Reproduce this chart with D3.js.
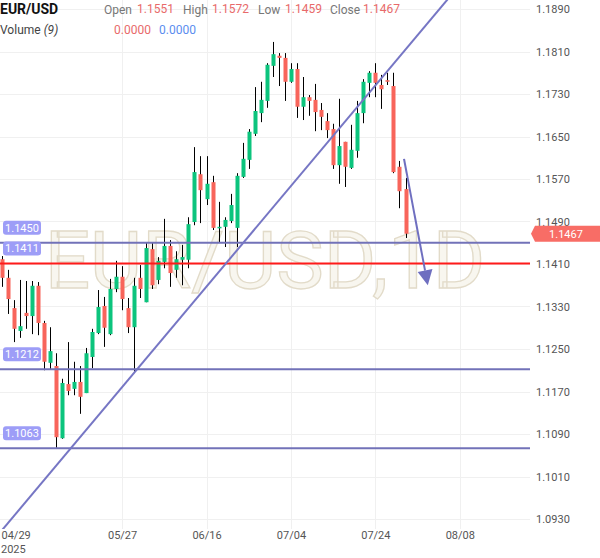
<!DOCTYPE html>
<html><head><meta charset="utf-8">
<script src="https://cdn.jsdelivr.net/npm/d3@7/dist/d3.min.js"></script>
<style>
html,body{margin:0;padding:0;background:#fff;}
svg{display:block;font-family:Roboto,"Noto Sans",sans-serif;}
</style></head>
<body><svg id="c" width="600" height="558"></svg>
<script>
// ---- data ----
const dates = ['04/29','04/30','05/01','05/02','05/05','05/06','05/07','05/08','05/09','05/12','05/13','05/14','05/15','05/16','05/19','05/20','05/21','05/22','05/23','05/26','05/27','05/28','05/29','05/30','06/02','06/03','06/04','06/05','06/06','06/09','06/10','06/11','06/12','06/13','06/16','06/17','06/18','06/19','06/20','06/23','06/24','06/25','06/26','06/27','06/30','07/01','07/02','07/03','07/04','07/07','07/08','07/09','07/10','07/11','07/14','07/15','07/16','07/17','07/18','07/21','07/22','07/23','07/24','07/25','07/28','07/29','07/30','07/31'];
const open  = [1.1419,1.1384,1.1327,1.1284,1.1318,1.1312,1.1369,1.1299,1.1224,1.1218,1.1082,1.1184,1.1175,1.1188,1.1167,1.1235,1.1280,1.1331,1.1278,1.1363,1.1386,1.1327,1.1291,1.1384,1.1338,1.1438,1.1380,1.1414,1.1444,1.1399,1.1418,1.1418,1.1489,1.1579,1.1532,1.1564,1.1478,1.1480,1.1491,1.1478,1.1574,1.1606,1.1655,1.1694,1.1717,1.1783,1.1802,1.1798,1.1753,1.1777,1.1706,1.1724,1.1719,1.1700,1.1679,1.1664,1.1596,1.1640,1.1591,1.1623,1.1694,1.1751,1.1770,1.1747,1.1756,1.1745,1.1593,1.1551];
const high  = [1.1425,1.1399,1.1342,1.1380,1.1378,1.1378,1.1376,1.1303,1.1291,1.1242,1.1194,1.1263,1.1226,1.1218,1.1252,1.1288,1.1361,1.1348,1.1382,1.1416,1.1406,1.1346,1.1384,1.1408,1.1450,1.1451,1.1423,1.1495,1.1455,1.1434,1.1446,1.1498,1.1630,1.1613,1.1613,1.1576,1.1527,1.1498,1.1542,1.1581,1.1638,1.1664,1.1743,1.1753,1.1788,1.1828,1.1807,1.1807,1.1788,1.1788,1.1762,1.1728,1.1749,1.1713,1.1694,1.1674,1.1721,1.1640,1.1672,1.1717,1.1758,1.1773,1.1788,1.1766,1.1770,1.1770,1.1604,1.1572];
const low   = [1.1367,1.1316,1.1263,1.1271,1.1288,1.1278,1.1276,1.1210,1.1212,1.1064,1.1081,1.1163,1.1163,1.1128,1.1167,1.1214,1.1278,1.1254,1.1276,1.1357,1.1323,1.1280,1.1207,1.1346,1.1338,1.1363,1.1372,1.1402,1.1367,1.1384,1.1370,1.1402,1.1483,1.1487,1.1521,1.1474,1.1450,1.1442,1.1487,1.1442,1.1572,1.1589,1.1651,1.1677,1.1704,1.1762,1.1745,1.1717,1.1751,1.1685,1.1681,1.1689,1.1660,1.1662,1.1647,1.1589,1.1561,1.1555,1.1589,1.1610,1.1675,1.1724,1.1724,1.1702,1.1747,1.1581,1.1515,1.1459];
const close = [1.1384,1.1344,1.1288,1.1293,1.1312,1.1369,1.1299,1.1226,1.1246,1.1084,1.1186,1.1171,1.1188,1.1160,1.1242,1.1282,1.1329,1.1290,1.1363,1.1386,1.1344,1.1291,1.1369,1.1363,1.1440,1.1370,1.1416,1.1444,1.1393,1.1419,1.1423,1.1485,1.1583,1.1549,1.1561,1.1478,1.1480,1.1493,1.1521,1.1576,1.1608,1.1659,1.1698,1.1719,1.1785,1.1805,1.1798,1.1753,1.1777,1.1706,1.1724,1.1717,1.1696,1.1687,1.1662,1.1596,1.1632,1.1593,1.1625,1.1694,1.1753,1.1770,1.1751,1.1739,1.1753,1.1583,1.1547,1.1467];

const yTicks = [1.0930,1.1010,1.1090,1.1170,1.1250,1.1330,1.1410,1.1490,1.1570,1.1650,1.1730,1.1810,1.1890];
const xTickIdx = [0,20,34,48,62,76];
const xTickLabels = ['04/29','05/27','06/16','07/04','07/24','08/08'];
const levels = [1.1450,1.1411,1.1212,1.1063];
const levelColors = ['#7272b8','#ff1a1a','#7272b8','#7272b8'];
const trendLine = [{i:11.7,p:1.1066},{i:73.9,p:1.1907}];
const arrowLine = [{i:66.75,p:1.1608},{i:70.7,p:1.1370}];
const lastPrice = 1.1467;
const header = {symbol:'EUR/USD', open:'1.1551', high:'1.1572', low:'1.1459', close:'1.1467'};

// ---- scales ----
const W = 600, H = 558, plotR = 530, plotB = 529;
const x = d3.scaleLinear().domain([0,76]).range([1.5, 1.5+76*6.03]);
const y = d3.scaleLinear().domain([1.0930,1.1890]).range([519,9]);

const svg = d3.select('#c');
svg.append('defs').append('clipPath').attr('id','plot')
  .append('rect').attr('x',0).attr('y',0).attr('width',plotR).attr('height',plotB);

// grid
const grid = svg.append('g');
grid.selectAll('line.h').data(yTicks).join('line')
  .attr('x1',0).attr('x2',plotR)
  .attr('y1',d=>Math.round(y(d))+0.5).attr('y2',d=>Math.round(y(d))+0.5)
  .attr('stroke','#f0f0f0').attr('stroke-width',1);
grid.selectAll('line.v').data(xTickIdx.slice(1)).join('line')
  .attr('y1',0).attr('y2',plotB)
  .attr('x1',d=>Math.round(x(d))+0.5).attr('x2',d=>Math.round(x(d))+0.5)
  .attr('stroke','#f0f0f0').attr('stroke-width',1);

// watermark
svg.append('text').attr('x',265).attr('y',288).attr('text-anchor','middle')
  .attr('font-size',80).attr('font-weight',400)
  .attr('fill','#f8f6ef').attr('stroke','#e2dbc9').attr('stroke-width',1.3)
  .text('EUR/USD,1D');

const plot = svg.append('g').attr('clip-path','url(#plot)');

// candles
const idx = d3.range(open.length);
const up = '#0cc47d', dn = '#f8655b';
plot.append('g').selectAll('line').data(idx).join('line')
  .attr('x1',i=>Math.round(x(i))+0.5).attr('x2',i=>Math.round(x(i))+0.5)
  .attr('y1',i=>y(high[i])).attr('y2',i=>y(low[i]))
  .attr('stroke','#000').attr('stroke-width',1);
plot.append('g').selectAll('rect').data(idx).join('rect')
  .attr('x',i=>Math.round(x(i))-1.5).attr('width',4)
  .attr('y',i=>y(Math.max(open[i],close[i])))
  .attr('height',i=>Math.max(1.5, Math.abs(y(open[i])-y(close[i]))))
  .attr('fill',i=>close[i]>=open[i]?up:dn);

// horizontal levels
plot.selectAll('line.lvl').data(levels).join('line')
  .attr('x1',0).attr('x2',plotR)
  .attr('y1',d=>y(d)).attr('y2',d=>y(d))
  .attr('stroke',(d,k)=>levelColors[k]).attr('stroke-width',2);

// trend line (extended through two anchor points)
const slope = (trendLine[1].p-trendLine[0].p)/(trendLine[1].i-trendLine[0].i);
const tA = {i:-1, p:trendLine[0].p + slope*(-1-trendLine[0].i)};
const tB = {i:80, p:trendLine[0].p + slope*(80-trendLine[0].i)};
plot.append('line')
  .attr('x1',x(tA.i)).attr('y1',y(tA.p)).attr('x2',x(tB.i)).attr('y2',y(tB.p))
  .attr('stroke','#7676c4').attr('stroke-width',2);

// arrow
const ax1=x(arrowLine[0].i), ay1=y(arrowLine[0].p), ax2=x(arrowLine[1].i), ay2=y(arrowLine[1].p);
const ang = Math.atan2(ay2-ay1, ax2-ax1);
const hl = 15, hw = 7.5;
const bx = ax2 - hl*Math.cos(ang), by = ay2 - hl*Math.sin(ang);
plot.append('line').attr('x1',ax1).attr('y1',ay1).attr('x2',bx).attr('y2',by)
  .attr('stroke','#6f6fc0').attr('stroke-width',2);
plot.append('path')
  .attr('d',`M${ax2},${ay2}L${bx+hw*Math.sin(ang)},${by-hw*Math.cos(ang)}L${bx-hw*Math.sin(ang)},${by+hw*Math.cos(ang)}Z`)
  .attr('fill','#6f6fc0');

// level labels
const lbl = svg.append('g');
levels.forEach(v=>{
  const cy = y(v)-15;
  lbl.append('rect').attr('x',3).attr('y',cy-7).attr('width',38).attr('height',14).attr('rx',3)
    .attr('fill','#9d9df7');
  lbl.append('text').attr('x',22).attr('y',cy+4).attr('text-anchor','middle')
    .attr('font-size',11).attr('fill','#fff').text(d3.format('.4f')(v));
});

// right axis
const ra = svg.append('g').attr('transform',`translate(${plotR+2},0)`)
  .call(d3.axisRight(y).tickValues(yTicks).tickSize(0).tickPadding(4).tickFormat(d3.format('.4f')));
ra.select('.domain').remove();
ra.selectAll('text').attr('font-size',11).attr('fill','#555').attr('font-family','Roboto,sans-serif');

// bottom axis
const ba = svg.append('g').attr('transform',`translate(0,${plotB})`)
  .call(d3.axisBottom(x).tickValues(xTickIdx).tickSize(0).tickPadding(2).tickFormat((d,k)=>xTickLabels[k]));
ba.select('.domain').remove();
ba.selectAll('text').attr('font-size',11).attr('fill','#555').attr('font-family','Roboto,sans-serif');
ba.selectAll('.tick').filter(d=>d===0).select('text').attr('text-anchor','start').attr('x',-x(0)+1);
svg.append('text').attr('x',1).attr('y',553).attr('font-size',11).attr('fill','#555').text('2025');

// last price tag
const ly = y(lastPrice);
svg.append('path')
  .attr('d',`M${plotR+1},${ly}L${plotR+5},${ly-8}H${W}V${ly+8}H${plotR+5}Z`)
  .attr('fill','#f86d66');
svg.append('text').attr('x',566).attr('y',ly+4).attr('text-anchor','middle')
  .attr('font-size',11).attr('fill','#fff').text(d3.format('.4f')(lastPrice));

// header
const hd = svg.append('g');
hd.append('text').attr('x',0).attr('y',14).attr('font-size',14).attr('font-weight',700).attr('fill','#111').text(header.symbol);
const hItems = [['Open',104,header.open,137],['High',183,header.high,212],['Low',258,header.low,285],['Close',330,header.close,363]];
hItems.forEach(([k,kx,v,vx])=>{
  hd.append('text').attr('x',kx).attr('y',14).attr('font-size',12).attr('fill','#777').text(k);
  hd.append('text').attr('x',vx).attr('y',13).attr('font-size',12).attr('fill','#e86a6a').text(v);
});
const vt = hd.append('text').attr('x',0).attr('y',34).attr('font-size',12).attr('fill','#444');
vt.append('tspan').text('Volume ');
vt.append('tspan').attr('font-style','italic').text('(9)');
hd.append('text').attr('x',114).attr('y',34).attr('font-size',12).attr('fill','#e86a6a').text('0.0000');
hd.append('text').attr('x',159).attr('y',34).attr('font-size',12).attr('fill','#5b8def').text('0.0000');
</script></body></html>
